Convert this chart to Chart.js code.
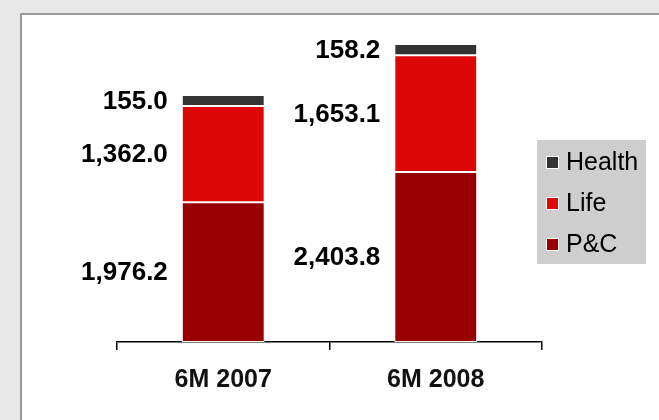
<!DOCTYPE html>
<html>
<head>
<meta charset="utf-8">
<script src="https://cdn.jsdelivr.net/npm/chart.js@4/dist/chart.umd.min.js"></script>
<style>
  html, body { margin:0; padding:0; background:#e8e8e8; width:659px; height:420px; overflow:hidden; }
  #frame { position:absolute; left:20px; top:13px; width:700px; height:500px; background:#fff; border:2px solid #999; }
  #wrap { position:absolute; left:0; top:0; width:659px; height:420px; }
</style>
</head>
<body>
<div id="frame"></div>
<div id="wrap"><canvas id="chart"></canvas></div>
<script>
const categories = ['6M 2007', '6M 2008'];
const pcValues = [1976.2, 2403.8];
const lifeValues = [1362.0, 1653.1];
const healthValues = [155.0, 158.2];

const FONT = "'Liberation Sans', Arial, sans-serif";

function fmt(v){
    return v.toLocaleString('en-US', {minimumFractionDigits:1, maximumFractionDigits:1});
}

// labels to the left of each segment
const valueLabels = {
    id:'valueLabels',
    afterDatasetsDraw(chart){
        const ctx = chart.ctx;
        ctx.save();
        ctx.font = 'bold 26px ' + FONT;
        ctx.fillStyle = '#000';
        ctx.textAlign = 'right';
        ctx.textBaseline = 'middle';
        chart.data.datasets.forEach((ds, di) => {
            chart.getDatasetMeta(di).data.forEach((bar, i) => {
                const x = bar.x - bar.width/2 - 14;
                const y = (bar.y + bar.base)/2 + 1;
                ctx.fillText(fmt(ds.data[i]), x, y);
            });
        });
        ctx.restore();
    }
};

// grey legend box on the right, top item first
const boxLegend = {
    id:'boxLegend',
    afterDraw(chart){
        const ctx = chart.ctx;
        const items = chart.data.datasets.slice().reverse();
        const left = 537, top = 140, w = 109, h = 124;
        ctx.save();
        ctx.fillStyle = '#cecece';
        ctx.fillRect(left, top, w, h);
        ctx.font = '25px ' + FONT;
        ctx.textBaseline = 'middle';
        items.forEach((ds, i) => {
            const cy = top + 22 + i*41;
            ctx.fillStyle = '#fff';
            ctx.fillRect(left + 9, cy - 6, 13, 13);
            ctx.fillStyle = ds.backgroundColor;
            ctx.fillRect(left + 10, cy - 5, 11, 11);
            ctx.fillStyle = '#000';
            ctx.fillText(ds.label, left + 29, cy + 1);
        });
        ctx.restore();
    }
};

new Chart(document.getElementById('chart'), {
    type:'bar',
    data:{
        labels:categories,
        datasets:[
            {label:'P&C', data:pcValues, backgroundColor:'#990000', borderColor:'#fff', borderWidth:1, borderSkipped:false},
            {label:'Life', data:lifeValues, backgroundColor:'#dd0707', borderColor:'#fff', borderWidth:1, borderSkipped:false},
            {label:'Health', data:healthValues, backgroundColor:'#333333', borderColor:'#fff', borderWidth:1, borderSkipped:false}
        ]
    },
    options:{
        responsive:true,
        maintainAspectRatio:false,
        animation:false,
        categoryPercentage:1,
        barPercentage:0.39,
        layout:{ padding:{left:117, right:117, top:31, bottom:10} },
        plugins:{ legend:{display:false}, tooltip:{enabled:false} },
        scales:{
            x:{
                stacked:true,
                grid:{ drawOnChartArea:false, drawTicks:true, tickLength:8, color:'#000', lineWidth:1.5, offset:true },
                border:{ display:true, color:'#000', width:1.5 },
                ticks:{ color:'#111', padding:15, font:{family:FONT, size:25, weight:'bold', lineHeight:1.2} }
            },
            y:{
                stacked:true,
                display:false,
                min:0,
                max:4400
            }
        }
    },
    plugins:[valueLabels, boxLegend]
});
</script>
</body>
</html>
